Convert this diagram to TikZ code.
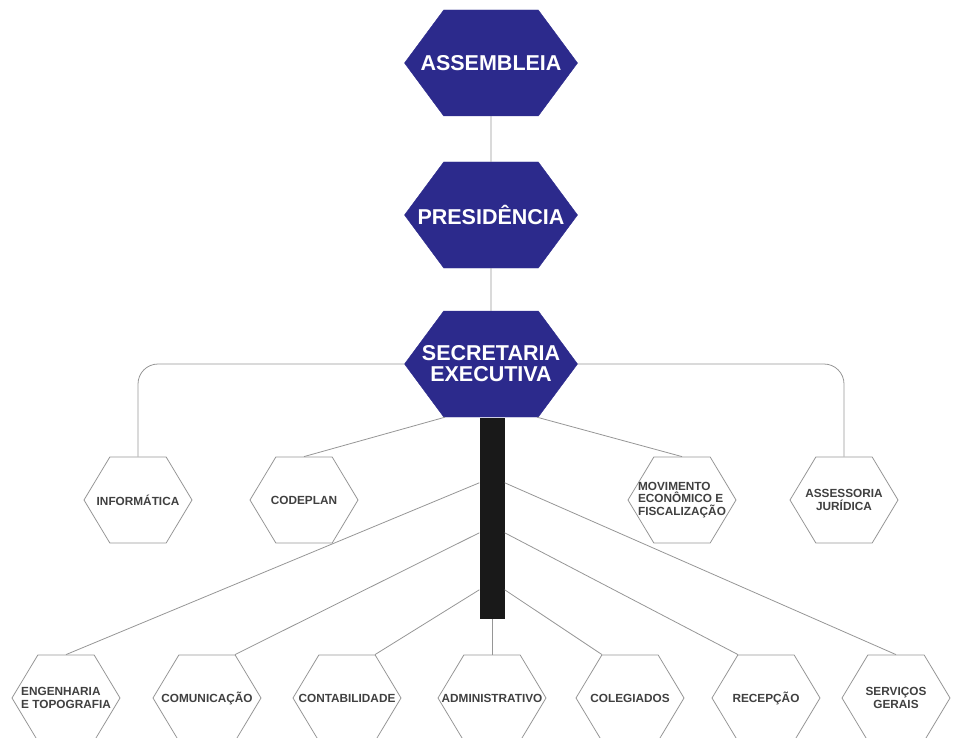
\documentclass[tikz,border=0pt]{standalone}
\usepackage{fontspec}
\setmainfont{Liberation Sans}
\usetikzlibrary{shapes.symbols, positioning}
\definecolor{azul}{RGB}{44,42,140}
\definecolor{linha}{RGB}{150,150,150}

\begin{document}
\begin{tikzpicture}[
      x=1pt, y=-1pt,
      chefe/.style = {shape=signal, signal to=east and west,
        signal pointer angle=107, fill=azul, draw=azul,
        text=white, align=center, inner xsep=-90pt, inner ysep=0pt,
        minimum width=173pt, minimum height=106pt,
        font=\fontsize{21.5}{21}\selectfont\bfseries
      },
      setor/.style = {shape=signal, signal to=east and west,
        signal pointer angle=118, draw=linha, line width=0.8pt,
        text=black!75, align=center, inner xsep=-70pt, inner ysep=0pt,
        minimum width=108pt, minimum height=86pt,
        font=\fontsize{11.8}{12.5}\selectfont\bfseries
      },
      barra/.style = {fill=black!90, inner sep=0pt,
        minimum width=25pt, minimum height=201pt},
      liga/.style={draw=linha, line width=0.8pt} % connectors
    ]
  \useasboundingbox (0,0) rectangle (971,738);

  \node[chefe] (ass) at (491,63) {ASSEMBLEIA};
  \node[chefe] (pres) at (491,215) {PRESIDÊNCIA};
  \node[chefe] (sec) at (491,364) {SECRETARIA\\EXECUTIVA};
  \node[barra] (bar) at (492,518.5) {};

  \node[setor] (inf) at (138,500) {INFORMÁTICA};
  \node[setor] (cod) at (304,500) {CODEPLAN};
  \node[setor, align=left] (mov) at (682,500) {MOVIMENTO\\ECONÔMICO E\\FISCALIZAÇÃO};
  \node[setor] (ase) at (844,500) {ASSESSORIA\\JURÍDICA};

  \node[setor, align=left] (eng) at (66,698) {ENGENHARIA\\E TOPOGRAFIA};
  \node[setor] (com) at (207,698) {COMUNICAÇÃO};
  \node[setor] (con) at (347,698) {CONTABILIDADE};
  \node[setor] (adm) at (492,698) {ADMINISTRATIVO};
  \node[setor] (col) at (630,698) {COLEGIADOS};
  \node[setor] (rec) at (766,698) {RECEPÇÃO};
  \node[setor] (ser) at (896,698) {SERVIÇOS\\GERAIS};

  \draw[liga] (ass) -- (pres);
  \draw[liga] (pres) -- (sec);
  \draw[liga, rounded corners=20pt] (sec.west) -| (inf.north);
  \draw[liga, rounded corners=20pt] (sec.east) -| (ase.north);
  \draw[liga] ([xshift=-46pt]sec.south) -- (cod.north);
  \draw[liga] ([xshift=46pt]sec.south) -- (mov.north);

  \draw[liga] (bar.south) -- (adm.north);
  \draw[liga] ([yshift=-65pt]bar.north west) -- (eng.north);
  \draw[liga] ([yshift=-115pt]bar.north west) -- ([xshift=28pt]com.north);
  \draw[liga] ([yshift=-172pt]bar.north west) -- ([xshift=28pt]con.north);
  \draw[liga] ([yshift=-65pt]bar.north east) -- (ser.north);
  \draw[liga] ([yshift=-115pt]bar.north east) -- ([xshift=-28pt]rec.north);
  \draw[liga] ([yshift=-172pt]bar.north east) -- ([xshift=-28pt]col.north);
\end{tikzpicture}
\end{document}
